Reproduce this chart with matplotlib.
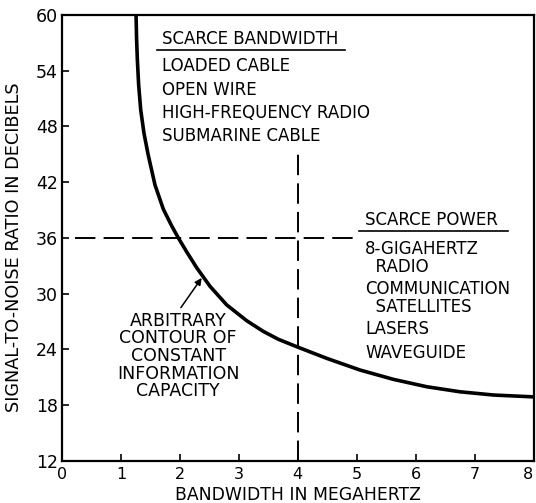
import matplotlib
matplotlib.use("Agg")
import matplotlib.pyplot as plt

plt.rcParams['font.family'] = ['DejaVu Sans']

# ---- data ----
bandwidth_mhz = [1.256, 1.265, 1.278, 1.30, 1.335, 1.39, 1.46, 1.578, 1.719, 1.861, 1.974,
                 2.116, 2.285, 2.511, 2.794, 3.133, 3.415, 3.67, 4.01, 4.49, 5.056, 5.62,
                 6.19, 6.75, 7.32, 8.0]
snr_db = [60.0, 57.5, 55.2, 52.5, 49.8, 47.3, 45.0, 41.7, 39.1, 37.3, 36.0,
          34.5, 32.8, 30.8, 28.8, 27.1, 25.95, 25.1, 24.23, 23.05, 21.79, 20.79,
          19.99, 19.45, 19.1, 18.9]

x_ticks = [0, 1, 2, 3, 4, 5, 6, 7, 8]
x_tick_labels = ["0", "1", "2", "3", "4", "5", "6", "7", "8"]
y_ticks = [12, 18, 24, 30, 36, 42, 48, 54, 60]
y_tick_labels = ["12", "18", "24", "30", "36", "42", "48", "54", "60"]

power_level_db = 36
power_line_x = [0.22, 4.97]
bandwidth_level_mhz = 4
bandwidth_line_y = [12, 45.1]

bandwidth_title = "SCARCE BANDWIDTH"
bandwidth_items = ["LOADED CABLE", "OPEN WIRE", "HIGH-FREQUENCY RADIO", "SUBMARINE CABLE"]
power_title = "SCARCE POWER"
power_items = ["8-GIGAHERTZ", "  RADIO", "COMMUNICATION", "  SATELLITES", "LASERS", "WAVEGUIDE"]
contour_label = "ARBITRARY\nCONTOUR OF\nCONSTANT\nINFORMATION\nCAPACITY"

fig = plt.figure(figsize=(5.36, 5.03), dpi=100)
ax = fig.add_axes([0.1157, 0.0835, 0.8797, 0.8867])

ax.plot(bandwidth_mhz, snr_db, color='black', lw=2.6, solid_capstyle='butt',
        solid_joinstyle='round')
ax.plot(power_line_x, [power_level_db, power_level_db], color='black', lw=1.4,
        linestyle=(0, (10.5, 4.2)))
ax.plot([bandwidth_level_mhz, bandwidth_level_mhz], bandwidth_line_y, color='black', lw=1.4,
        linestyle=(0, (10.5, 4.2)))

ax.set_xlim(0, 8)
ax.set_ylim(12, 60)
ax.set_xticks(x_ticks)
ax.set_xticklabels(x_tick_labels)
ax.set_yticks(y_ticks)
ax.set_yticklabels(y_tick_labels)
ax.tick_params(direction='in', length=5, width=1.2)
ax.tick_params(axis='x', labelsize=11.5, pad=4)
ax.tick_params(axis='y', labelsize=12.5, pad=3)
ax.get_xticklabels()[-1].set_ha('right')
for s in ax.spines.values():
    s.set_linewidth(1.6)

ax.set_xlabel("BANDWIDTH IN MEGAHERTZ", fontsize=12.4)
ax.xaxis.set_label_coords(0.5, -0.056)
ax.set_ylabel("SIGNAL-TO-NOISE RATIO IN DECIBELS", fontsize=12.7)
ax.yaxis.set_label_coords(-0.082, 0.479)

fs = 12
ax.text(1.697, 57.4, bandwidth_title, fontsize=fs, va='center', ha='left')
ax.plot([1.61, 4.80], [56.23, 56.23], color='black', lw=1.2)
for label, yy in zip(bandwidth_items, [54.5, 51.9, 49.45, 46.98]):
    ax.text(1.697, yy, label, fontsize=fs, va='center', ha='left')

ax.text(5.14, 37.93, power_title, fontsize=fs, va='center', ha='left')
ax.plot([5.04, 7.57], [36.78, 36.78], color='black', lw=1.2)
for label, yy in zip(power_items, [34.81, 32.87, 30.5, 28.57, 26.2, 23.6]):
    ax.text(5.14, yy, label, fontsize=fs, va='center', ha='left')

ax.annotate(contour_label, xy=(2.37, 31.7), xytext=(1.97, 23.3),
            fontsize=12.5, ha='center', va='center', linespacing=0.98,
            arrowprops=dict(arrowstyle='-|>', color='black', lw=1.1,
                            mutation_scale=10, shrinkA=1, shrinkB=0,
                            relpos=(0.5, 1.0)))

fig.savefig("out.png", dpi=100)
